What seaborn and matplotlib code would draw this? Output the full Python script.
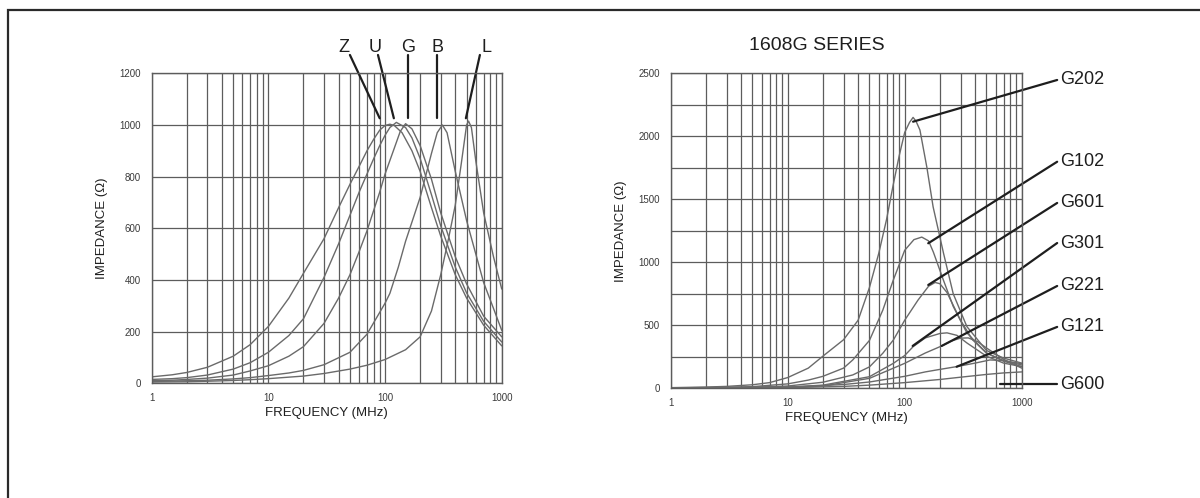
import matplotlib
matplotlib.use("Agg")
import matplotlib.pyplot as plt
from matplotlib.patches import Rectangle
from matplotlib.ticker import MultipleLocator, NullLocator, NullFormatter
import seaborn as sns
import pandas as pd

# Left chart: impedance curves Z, U, G, B, L (MHz / ohm)
z_freq = [1, 1.5, 2, 3, 5, 7, 10, 15, 20, 30, 40, 50, 60, 70, 80, 90, 100, 110, 120, 140, 170, 200, 250, 300, 400, 500, 700, 1000]
z_imp = [25, 33, 42, 62, 105, 150, 220, 330, 426, 560, 680, 770, 840, 900, 945, 980, 998, 1003, 998, 970, 900, 820, 680, 570, 420, 330, 225, 145]

u_freq = [1, 1.5, 2, 3, 5, 7, 10, 15, 20, 30, 40, 50, 60, 70, 80, 90, 100, 110, 125, 150, 170, 200, 250, 300, 400, 500, 700, 1000]
u_imp = [15, 18, 22, 32, 55, 80, 120, 185, 250, 410, 540, 650, 740, 810, 870, 920, 960, 990, 1010, 990, 950, 870, 730, 610, 450, 350, 240, 160]

g_freq = [1, 1.5, 2, 3, 5, 7, 10, 15, 20, 30, 40, 50, 60, 70, 80, 90, 100, 120, 135, 150, 170, 200, 250, 300, 400, 500, 700, 1000]
g_imp = [10, 12, 15, 20, 32, 48, 68, 105, 142, 232, 330, 420, 510, 590, 670, 740, 810, 910, 975, 1005, 985, 920, 790, 660, 490, 385, 260, 180]

b_freq = [1, 2, 3, 5, 7, 10, 15, 20, 30, 50, 70, 100, 110, 130, 150, 200, 250, 280, 310, 340, 400, 500, 600, 700, 850, 1000]
b_imp = [7, 10, 12, 17, 22, 30, 40, 50, 72, 120, 190, 310, 348, 450, 550, 720, 890, 970, 1000, 970, 820, 630, 500, 390, 290, 205]

l_freq = [1, 2, 3, 5, 7, 10, 20, 30, 50, 70, 100, 150, 200, 250, 300, 350, 400, 450, 500, 520, 550, 600, 700, 850, 1000]
l_imp = [5, 6, 8, 11, 14, 18, 28, 38, 55, 70, 92, 130, 180, 280, 420, 560, 690, 850, 1000, 1015, 990, 860, 660, 490, 365]

left_names = ["Z", "U", "G", "B", "L"]
# leader line: curve tip (MHz, ohm) and top end (MHz, ohm), letter x (MHz)
left_tip_f = [90, 119, 158, 280, 493]
left_top_f = [50, 87, 158, 280, 650]
left_letter_f = [44, 82, 158, 280, 740]

# Right chart: 1608G series
g202_freq = [1, 2, 3, 5, 7, 10, 15, 20, 30, 40, 50, 60, 70, 80, 90, 100, 110, 118, 125, 135, 155, 175, 215, 260, 340, 500, 700, 1000]
g202_imp = [5, 10, 15, 28, 45, 85, 160, 255, 385, 540, 800, 1070, 1340, 1620, 1850, 2030, 2110, 2150, 2120, 2050, 1750, 1440, 1070, 750, 490, 300, 240, 200]

g102_freq = [1, 3, 5, 10, 15, 20, 30, 36, 50, 65, 80, 100, 120, 140, 160, 176, 214, 260, 340, 500, 700, 1000]
g102_imp = [3, 8, 13, 35, 65, 95, 160, 225, 380, 620, 860, 1095, 1180, 1200, 1170, 1080, 860, 650, 440, 280, 220, 185]

g601_freq = [1, 5, 10, 20, 36, 50, 65, 80, 100, 130, 160, 182, 200, 230, 300, 380, 500, 700, 1000]
g601_imp = [2, 8, 18, 48, 106, 170, 278, 383, 540, 700, 810, 840, 830, 760, 540, 385, 280, 215, 172]

g301_freq = [1, 10, 20, 50, 80, 100, 118, 150, 200, 230, 280, 340, 500, 700, 1000]
g301_imp = [1, 10, 25, 92, 198, 260, 330, 400, 435, 440, 420, 360, 255, 200, 172]

g221_freq = [1, 10, 20, 50, 100, 150, 207, 250, 300, 350, 420, 500, 700, 1000]
g221_imp = [1, 8, 18, 79, 198, 280, 336, 375, 398, 400, 370, 320, 230, 160]

g121_freq = [1, 10, 30, 50, 100, 150, 200, 278, 400, 536, 700, 1000]
g121_imp = [1, 8, 30, 50, 95, 130, 150, 172, 200, 225, 220, 195]

g600_freq = [1, 10, 30, 50, 100, 200, 300, 500, 700, 1000]
g600_imp = [0.5, 5, 15, 25, 45, 70, 88, 110, 122, 130]

right_names = ["G202", "G102", "G601", "G301", "G221", "G121", "G600"]
right_tip_f = [118, 159, 159, 117, 207, 278, 653]
right_tip_z = [2116, 1151, 820, 336, 336, 171, 34]
right_lab_z = [2447, 1798, 1471, 1153, 812, 487, 34]
right_lab_f = 2010

CURVE = "#6a6a6a"
GRID = "#5c5c5c"
INK = "#1e1e1e"


def long_table(freqs, imps, names):
    rows = []
    for f_list, z_list, name in zip(freqs, imps, names):
        for f, z in zip(f_list, z_list):
            rows.append({"freq": f, "imp": z, "part": name})
    return pd.DataFrame(rows)


def style_axes(ax, ymax, ymajor, yminor):
    ax.set_xscale("log")
    ax.set_xlim(1, 1000)
    ax.set_ylim(0, ymax)
    ax.set_xticks([1, 10, 100, 1000])
    ax.set_xticklabels(["1", "10", "100", "1000"])
    ax.xaxis.set_minor_formatter(NullFormatter())
    ax.yaxis.set_major_locator(MultipleLocator(ymajor))
    if yminor:
        ax.yaxis.set_minor_locator(MultipleLocator(yminor))
    else:
        ax.yaxis.set_minor_locator(NullLocator())
    ax.grid(True, which="both", color=GRID, lw=0.9)
    ax.set_axisbelow(True)
    ax.tick_params(which="both", length=0, labelsize=7, labelcolor="#3a3a3a")
    ax.tick_params(axis="y", pad=8)
    ax.tick_params(axis="x", pad=7)
    for s in ax.spines.values():
        s.set_color(GRID)
        s.set_linewidth(1.0)
    ax.set_xlabel("FREQUENCY (MHz)", fontsize=9.5, color=INK, labelpad=3)
    ax.set_ylabel("IMPEDANCE (\u03a9)", fontsize=9.5, color=INK, labelpad=8)


sns.set_theme(style="white")
plt.rcParams["font.family"] = ["Liberation Sans", "DejaVu Sans"]

fig = plt.figure(figsize=(12, 4.98), dpi=100)
ax1 = fig.add_axes([0.1264, 0.2303, 0.2917, 0.6225])
ax2 = fig.add_axes([0.5589, 0.2203, 0.2925, 0.6325])

left_df = long_table([z_freq, u_freq, g_freq, b_freq, l_freq],
                     [z_imp, u_imp, g_imp, b_imp, l_imp], left_names)
sns.lineplot(data=left_df, x="freq", y="imp", units="part", estimator=None,
             color=CURVE, lw=1.0, ax=ax1, legend=False)
style_axes(ax1, 1200, 200, None)

for name, tf, topf, lf in zip(left_names, left_tip_f, left_top_f, left_letter_f):
    ax1.plot([tf, topf], [1026, 1271], color=INK, lw=1.6, clip_on=False)
    ax1.text(lf, 1284, name, fontsize=13, color=INK, ha="center", va="baseline")

right_df = long_table([g202_freq, g102_freq, g601_freq, g301_freq, g221_freq, g121_freq, g600_freq],
                      [g202_imp, g102_imp, g601_imp, g301_imp, g221_imp, g121_imp, g600_imp],
                      right_names)
sns.lineplot(data=right_df, x="freq", y="imp", units="part", estimator=None,
             color=CURVE, lw=1.0, ax=ax2, legend=False)
style_axes(ax2, 2500, 500, 250)

for name, tf, tz, lz in zip(right_names, right_tip_f, right_tip_z, right_lab_z):
    ax2.plot([tf, right_lab_f], [tz, lz], color=INK, lw=1.6, clip_on=False)
    ax2.text(right_lab_f * 1.05, lz, name, fontsize=13, color=INK, ha="left", va="center")

fig.text(0.681, 0.9096, "1608G SERIES", fontsize=14, color=INK, ha="center", va="center")

# page frame (cut off at right and bottom)
fig.add_artist(Rectangle((8 / 1200, -0.5), 2.0, 0.5 + 1 - 10 / 498,
                         transform=fig.transFigure, fill=False, lw=1.6, ec="#2a2a2a"))

fig.savefig("out.png", dpi=100)
